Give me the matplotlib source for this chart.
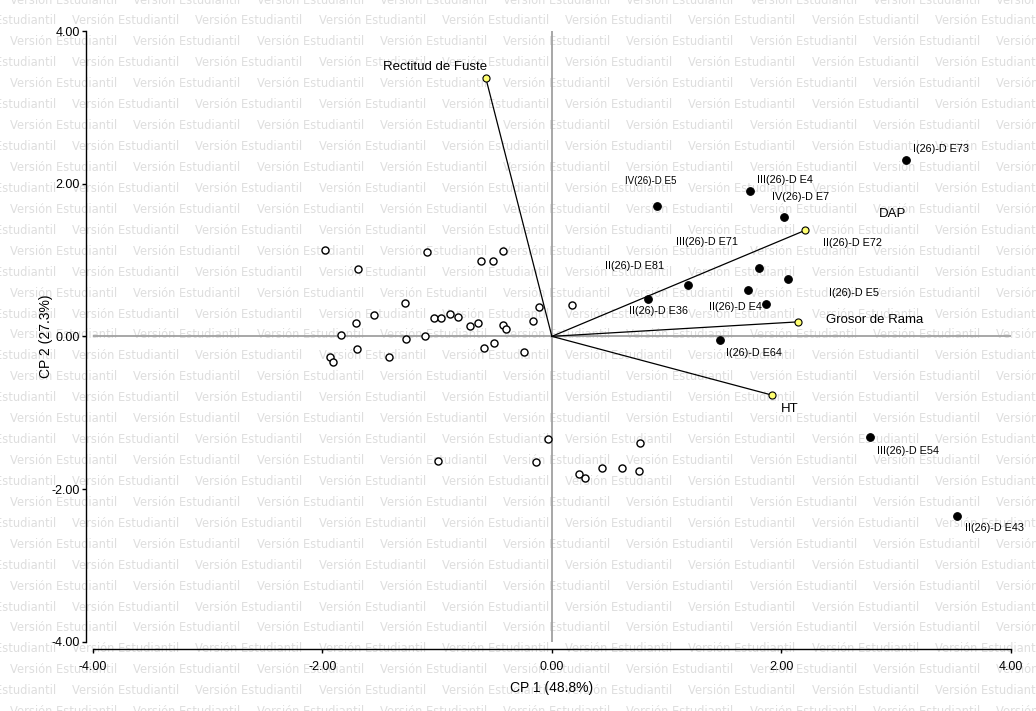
import numpy as np
import matplotlib
matplotlib.use("Agg")
import matplotlib.pyplot as plt

plt.rcParams["font.family"] = ["Liberation Sans", "DejaVu Sans"]

# variable vectors (biplot arrows)
var_names = ["Rectitud de Fuste", "DAP", "Grosor de Rama", "HT"]
var_x = [-0.575, 2.21, 2.15, 1.92]
var_y = [3.38, 1.39, 0.19, -0.77]

# labelled observations (filled)
lab_names = ["I(26)-D E73", "III(26)-D E4", "IV(26)-D E7", "IV(26)-D E5",
             "III(26)-D E71", "II(26)-D E72", "I(26)-D E5", "II(26)-D E4",
             "II(26)-D E81", "II(26)-D E36", "I(26)-D E64", "III(26)-D E54",
             "II(26)-D E43"]
lab_x = [3.09, 1.73, 2.02, 0.92, 1.81, 2.06, 1.71, 1.87, 1.19, 0.84, 1.47, 2.77, 3.53]
lab_y = [2.31, 1.90, 1.57, 1.71, 0.89, 0.75, 0.61, 0.42, 0.67, 0.49, -0.05, -1.32, -2.35]

# unlabelled observations (open)
obs_x = [-1.98, -1.09, -0.43, -0.62, -0.51, -1.69, -1.28, -1.55, -1.71, -1.03,
         -0.97, -0.89, -0.82, -0.71, -0.64, -0.43, -0.40, -0.16, -0.11, 0.18,
         -1.84, -1.27, -1.11, -1.70, -1.93, -1.91, -1.42, -0.59, -0.50, -0.24,
         -0.03, -0.14, 0.77, 0.24, 0.29, 0.44, 0.61, 0.76, -0.99]
obs_y = [1.13, 1.10, 1.12, 0.99, 0.99, 0.88, 0.44, 0.28, 0.18, 0.24,
         0.24, 0.29, 0.26, 0.14, 0.18, 0.15, 0.09, 0.20, 0.38, 0.41,
         0.02, -0.03, 0.01, -0.17, -0.27, -0.34, -0.27, -0.15, -0.09, -0.21,
         -1.35, -1.64, -1.40, -1.80, -1.86, -1.73, -1.73, -1.76, -1.63]

ticks = [-4, -2, 0, 2, 4]

# label offsets in points (dx, dy, ha)
lab_off = {
    "I(26)-D E73": (5, 8, "left"), "III(26)-D E4": (5, 8, "left"),
    "IV(26)-D E7": (-8, 14, "left"), "IV(26)-D E5": (-23, 18, "left"),
    "III(26)-D E71": (-60, 19, "left"), "II(26)-D E72": (25, 26, "left"),
    "I(26)-D E5": (58, -2, "left"), "II(26)-D E4": (-3, -2, "right"),
    "II(26)-D E81": (-60, 14, "left"), "II(26)-D E36": (-14, -9, "left"),
    "I(26)-D E64": (4, -9, "left"), "III(26)-D E54": (5, -10, "left"),
    "II(26)-D E43": (6, -9, "left"),
}
var_off = {
    "Rectitud de Fuste": (1, 8, "right"), "DAP": (53, 12, "left"),
    "Grosor de Rama": (20, 1, "left"), "HT": (6, -10, "left"),
}

W, H = 1036, 711
fig = plt.figure(figsize=(W / 100, H / 100), dpi=100, facecolor="white")

# watermark in the background
bg = fig.add_axes([0, 0, 1, 1], zorder=-1)
bg.set_xlim(0, W)
bg.set_ylim(H, 0)
bg.axis("off")
for k in range(-1, 35):
    yy = 21 + 20.93 * k
    x0 = 72 if k % 2 == 0 else 10
    xx = x0 - 123.3
    while xx < W:
        bg.text(xx, yy, "Versión Estudiantil", fontsize=8.3, color="#dedede",
                ha="left", va="center", family="DejaVu Sans")
        xx += 123.3

ax = fig.add_axes([93 / W, 69.3 / H, 917.7 / W, 610.7 / H])
ax.patch.set_alpha(0)
ax.set_xlim(-4, 4)
ax.set_ylim(-4, 4)

ax.axhline(0, color="#a0a0a0", lw=1.3, zorder=1)
ax.axvline(0, color="#a0a0a0", lw=1.3, zorder=1)

for vx, vy in zip(var_x, var_y):
    ax.plot([0, vx], [0, vy], color="black", lw=0.9, zorder=2)
ax.scatter(var_x, var_y, s=26, facecolor="#ffff70", edgecolor="black", lw=0.8, zorder=4)
for name, vx, vy in zip(var_names, var_x, var_y):
    dx, dy, ha = var_off[name]
    ax.annotate(name, (vx, vy), xytext=(dx, dy), textcoords="offset points",
                ha=ha, va="center", fontsize=9.5)

ax.scatter(obs_x, obs_y, s=26, facecolor="white", edgecolor="black", lw=1.0, zorder=3)
ax.scatter(lab_x, lab_y, s=30, facecolor="black", edgecolor="black", lw=0.8, zorder=3)
for name, lx, ly in zip(lab_names, lab_x, lab_y):
    dx, dy, ha = lab_off[name]
    fs = 7 if name == "IV(26)-D E5" else 7.8
    ax.annotate(name, (lx, ly), xytext=(dx, dy), textcoords="offset points",
                ha=ha, va="center", fontsize=fs)

for s in ["top", "right"]:
    ax.spines[s].set_visible(False)
for s in ["left", "bottom"]:
    ax.spines[s].set_position(("outward", 5))
    ax.spines[s].set_linewidth(1.0)
ax.set_xticks(ticks)
ax.set_yticks(ticks)
ax.set_xticklabels([f"{t:.2f}" for t in ticks])
ax.set_yticklabels([f"{t:.2f}" for t in ticks])
ax.tick_params(direction="out", length=3, width=1.0, labelsize=9)
ax.tick_params(axis="x", pad=6)
ax.tick_params(axis="y", pad=1.5)

ax.set_xlabel("CP 1 (48.8%)", fontsize=10, labelpad=6)
ax.set_ylabel("CP 2 (27.3%)", fontsize=10, labelpad=-1)

fig.savefig("out.png", dpi=100)
